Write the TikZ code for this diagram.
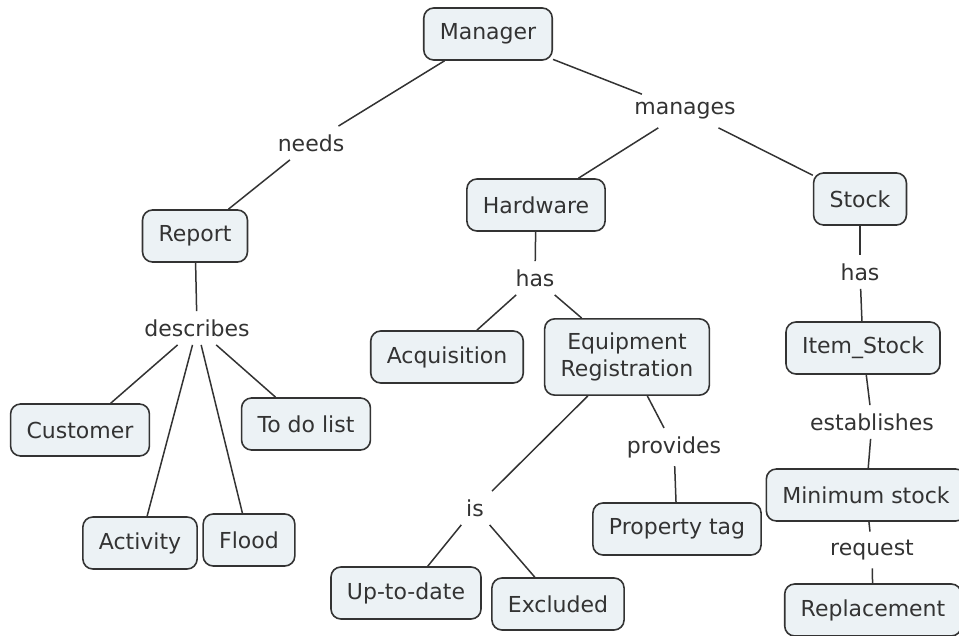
\documentclass[tikz,border=0pt]{standalone}
\usepackage{fontspec}
\setmainfont{DejaVu Sans}
\definecolor{cmapfill}{RGB}{236,242,245}
\definecolor{cmapline}{RGB}{51,51,51}

\begin{document}
\begin{tikzpicture}[x=0.5pt,y=-0.5pt,
  concept/.style={rectangle,rounded corners=5pt,draw=cmapline,line width=0.8pt,fill=cmapfill,text=cmapline,minimum height=26pt,inner xsep=8pt,inner ysep=7pt,align=center,font=\fontsize{11}{13.5}\selectfont},
  phrase/.style={text=cmapline,inner sep=4pt,font=\fontsize{11}{13.5}\selectfont},
  link/.style={draw=cmapline,line width=0.75pt}]
\useasboundingbox (0,0) rectangle (959,636);
% concepts
\node[concept] (manager) at (488,34) {Manager};
\node[concept] (report) at (195,236) {Report};
\node[concept] (hardware) at (536,205) {Hardware};
\node[concept] (stock) at (860,199) {Stock};
\node[concept] (customer) at (80,430) {Customer};
\node[concept] (todo) at (306,424) {To do list};
\node[concept] (activity) at (140,543) {Activity};
\node[concept] (flood) at (249,540) {Flood};
\node[concept] (acquisition) at (447,357) {Acquisition};
\node[concept] (equipment) at (627,357) {Equipment\\Registration};
\node[concept] (itemstock) at (863,348) {Item\_Stock};
\node[concept] (minimum) at (866,495) {Minimum stock};
\node[concept] (replacement) at (873,610) {Replacement};
\node[concept] (propertytag) at (677,529) {Property tag};
\node[concept] (uptodate) at (406,593) {Up-to-date};
\node[concept] (excluded) at (558,604) {Excluded};
% linking phrases
\node[phrase] (needs) at (311,143) {needs};
\node[phrase] (manages) at (685,111) {manages};
\node[phrase] (describes) at (197,328) {describes};
\node[phrase] (hashw) at (535,278) {has};
\node[phrase] (hasstock) at (860,272) {has};
\node[phrase] (establishes) at (872,422) {establishes};
\node[phrase] (request) at (872,550) {request};
\node[phrase] (provides) at (674,447) {provides};
\node[phrase] (is) at (475,508) {is};
% links
\path[link] (manager) edge (needs);
\path[link] (needs) edge (report);
\path[link] (manager) edge (manages);
\path[link] (manages) edge (hardware);
\path[link] (manages) edge (stock);
\path[link] (report) edge (describes);
\path[link] (describes) edge (customer);
\path[link] (describes) edge (activity);
\path[link] (describes) edge (flood);
\path[link] (describes) edge (todo);
\path[link] (hardware) edge (hashw);
\path[link] (hashw) edge (acquisition);
\path[link] (hashw) edge (equipment);
\path[link] (equipment) edge (is);
\path[link] (is) edge (uptodate);
\path[link] (is) edge (excluded);
\path[link] (equipment) edge (provides);
\path[link] (provides) edge (propertytag);
\path[link] (stock) edge (hasstock);
\path[link] (hasstock) edge (itemstock);
\path[link] (itemstock) edge (establishes);
\path[link] (establishes) edge (minimum);
\path[link] (minimum) edge (request);
\path[link] (request) edge (replacement);
\end{tikzpicture}
\end{document}
